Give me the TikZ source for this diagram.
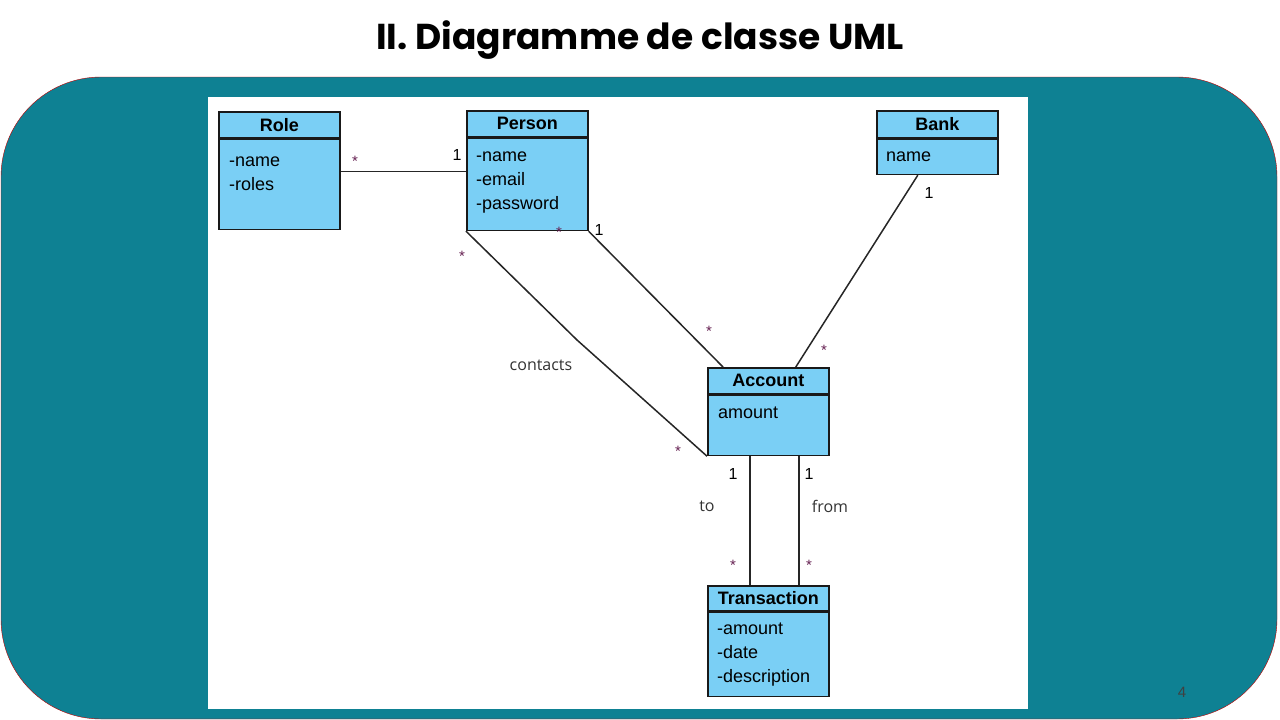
\documentclass[tikz,border=0pt]{standalone}
\usepackage{fontspec}
\setmainfont{Liberation Sans}
\newfontfamily\titlefont{Poppins}
\newfontfamily\labelfont{Open Sans}
\usetikzlibrary{positioning}
\definecolor{slideteal}{RGB}{14,129,147}
\definecolor{slidered}{RGB}{192,0,0}
\definecolor{umlblue}{RGB}{122,207,245}
\definecolor{starpurple}{RGB}{100,30,80}

\begin{document}
\begin{tikzpicture}[x=1pt, y=-1pt]
    \tikzset{
        chead/.style= {draw=black!90, fill=umlblue, line width=1.6pt, minimum width=121pt, minimum height=26pt, inner sep=0pt, font=\fontsize{18}{24}\selectfont\bfseries},
        cbody/.style= {draw=black!90, fill=umlblue, line width=1.6pt, minimum width=121pt, inner sep=0pt},
        attr/.style= {anchor=north west, align=left, inner sep=0pt, font=\fontsize{18}{24}\selectfont},
        mult/.style= {font=\fontsize{16}{16}\selectfont, inner sep=0pt},
        star/.style= {font=\fontsize{15}{15}\selectfont, text=starpurple, inner sep=0pt},
        alabel/.style= {font=\labelfont\fontsize{16}{16}\selectfont, text=black!80, inner sep=0pt},
        assoc/.style= {draw=black!85, line width=1.5pt},
    }

    \useasboundingbox (0,0) rectangle (1280,720);
    \node[font=\titlefont\bfseries\fontsize{36}{36}\selectfont] (title) at (640,40) {II. Diagramme de classe UML};
    \draw[slidered, fill=slideteal, rounded corners=100pt] (1,77) rectangle (1277,719);
    \fill[white] (208,97) rectangle (1028,709);
    \node[font=\fontsize{15}{15}\selectfont, text=black!75] (pagenum) at (1182,692) {4};

    \node[chead, anchor=north west] (rolehead) at (218,111) {Role};
    \node[cbody, minimum height=90pt, below=0pt of rolehead] (rolebody) {};
    \node[attr] (roleattr) at ([shift={(11,11)}]rolebody.north west) {\strut-name\\-roles};

    \node[chead, anchor=north west] (personhead) at (466,110) {Person};
    \node[cbody, minimum height=92pt, below=0pt of personhead] (personbody) {};
    \node[attr] (personattr) at ([shift={(10,7)}]personbody.north west) {\strut-name\\-email\\-password};

    \node[chead, anchor=north west, minimum height=27pt] (bankhead) at (876,110) {Bank};
    \node[cbody, minimum height=35pt, below=0pt of bankhead] (bankbody) {};
    \node[attr] (bankattr) at ([shift={(10,6)}]bankbody.north west) {\strut name};

    \node[chead, anchor=north west] (accounthead) at (707,367) {Account};
    \node[cbody, minimum height=60pt, below=0pt of accounthead] (accountbody) {};
    \node[attr] (accountattr) at ([shift={(11,7)}]accountbody.north west) {\strut amount};

    \node[chead, anchor=north west, minimum height=25pt] (transhead) at (707,585) {Transaction};
    \node[cbody, minimum height=84pt, below=0pt of transhead] (transbody) {};
    \node[attr] (transattr) at ([shift={(10,6)}]transbody.north west) {\strut-amount\\-date\\-description};

    \coordinate (bend) at (577,340);
    \draw[assoc] ([yshift=13pt]rolebody.east) -- ([yshift=13pt]personbody.west);
    \draw[assoc] (personbody.south west) -- (bend) -- (accountbody.south west);
    \draw[assoc] (personbody.south east) -- ([xshift=16pt]accounthead.north west);
    \draw[assoc] ([xshift=-19.5pt]bankbody.south) -- ([xshift=27.5pt]accounthead.north);
    \draw[assoc] ([xshift=-18.5pt]accountbody.south) -- ([xshift=-18.5pt]transhead.north);
    \draw[assoc] ([xshift=30.5pt]accountbody.south) -- ([xshift=30.5pt]transhead.north);

    \node[star] (rolestar) at (355,161) {*};
    \node[mult] (personone) at (457,155) {1};
    \node[star] (contactstar) at (462,256) {*};
    \node[alabel] (contacts) at (541,365) {contacts};
    \node[star] (contactend) at (678,451) {*};
    \node[star] (ownerstar) at (559,232) {*};
    \node[mult] (ownerone) at (599,230) {1};
    \node[star] (ownerend) at (709,331) {*};
    \node[mult] (bankone) at (929,193) {1};
    \node[star] (bankstar) at (824,350) {*};
    \node[mult] (toone) at (733,474) {1};
    \node[alabel] (tolabel) at (707,506) {to};
    \node[star] (tostar) at (733,565) {*};
    \node[mult] (fromone) at (809,474) {1};
    \node[alabel] (fromlabel) at (830,506) {from};
    \node[star] (fromstar) at (809,565) {*};
\end{tikzpicture}
\end{document}
